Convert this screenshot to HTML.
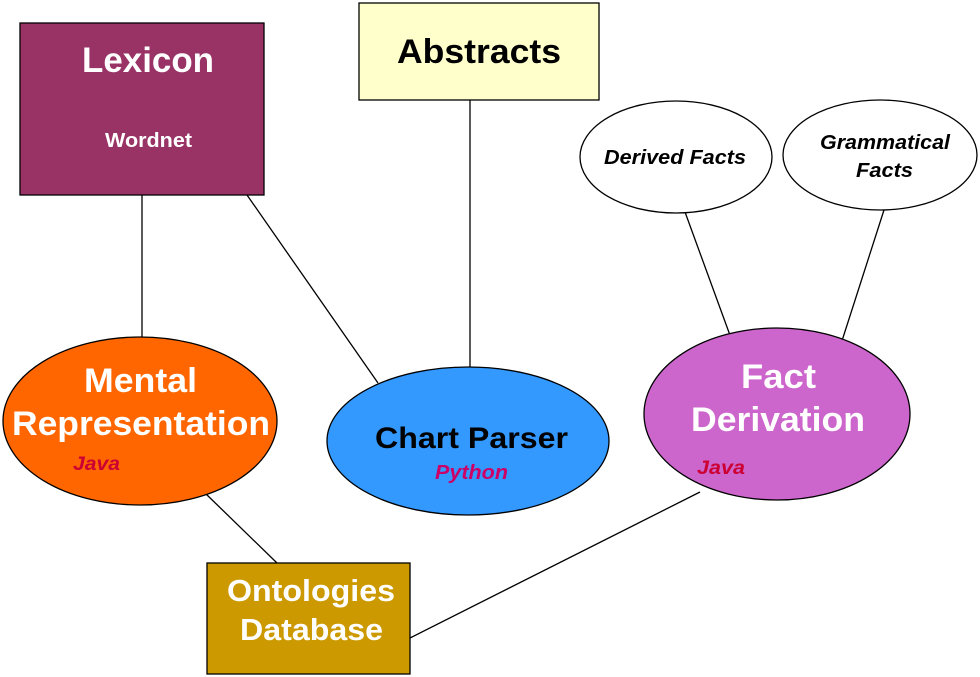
<!DOCTYPE html>
<html><head><meta charset="utf-8"><style>
html,body{margin:0;padding:0;background:#fff;}
svg{display:block;}
text{font-family:"Liberation Sans",Arial,sans-serif;font-weight:bold;}
</style></head><body>
<svg width="980" height="677" viewBox="0 0 980 677" xmlns="http://www.w3.org/2000/svg">
<g stroke="#000" stroke-width="1.3">
<line x1="142" y1="195" x2="142" y2="338"/>
<line x1="247" y1="195" x2="378" y2="383"/>
<line x1="470" y1="100" x2="470" y2="368"/>
<line x1="685" y1="212" x2="731" y2="338"/>
<line x1="884" y1="210" x2="840" y2="347"/>
<line x1="205" y1="493" x2="277" y2="563"/>
<line x1="700" y1="492" x2="410" y2="638"/>
</g>
<rect x="20" y="23" width="244" height="172" fill="#993366" stroke="#000" stroke-width="1.3"/>
<text x="82" y="72" font-size="35" fill="#fff" textLength="132" lengthAdjust="spacingAndGlyphs">Lexicon</text>
<text x="105" y="147" font-size="20" fill="#fff" textLength="87" lengthAdjust="spacingAndGlyphs">Wordnet</text>
<rect x="359" y="3" width="240" height="97" fill="#FFFFCC" stroke="#000" stroke-width="1.3"/>
<text x="397" y="63" font-size="34" fill="#000" textLength="164" lengthAdjust="spacingAndGlyphs">Abstracts</text>
<ellipse cx="676" cy="157" rx="96" ry="56" fill="#fff" stroke="#000" stroke-width="1.3"/>
<text x="604" y="164" font-size="20" font-style="italic" fill="#000" textLength="142" lengthAdjust="spacingAndGlyphs">Derived Facts</text>
<ellipse cx="880" cy="155" rx="97" ry="55" fill="#fff" stroke="#000" stroke-width="1.3"/>
<text x="820" y="149" font-size="20" font-style="italic" fill="#000" textLength="130" lengthAdjust="spacingAndGlyphs">Grammatical</text>
<text x="856" y="177" font-size="20" font-style="italic" fill="#000" textLength="57" lengthAdjust="spacingAndGlyphs">Facts</text>
<ellipse cx="140" cy="421" rx="137" ry="84" fill="#FF6600" stroke="#000" stroke-width="1.3"/>
<text x="84" y="392" font-size="34" fill="#fff" textLength="113" lengthAdjust="spacingAndGlyphs">Mental</text>
<text x="12" y="435" font-size="34" fill="#fff" textLength="258" lengthAdjust="spacingAndGlyphs">Representation</text>
<text x="73" y="470" font-size="19" font-style="italic" fill="#CC0033" textLength="47" lengthAdjust="spacingAndGlyphs">Java</text>
<ellipse cx="468" cy="441" rx="141" ry="74" fill="#3399FF" stroke="#000" stroke-width="1.3"/>
<text x="375" y="448" font-size="30" fill="#000" textLength="193" lengthAdjust="spacingAndGlyphs">Chart Parser</text>
<text x="435" y="479" font-size="20" font-style="italic" fill="#CC0066" textLength="73" lengthAdjust="spacingAndGlyphs">Python</text>
<ellipse cx="777" cy="414" rx="133" ry="86" fill="#CC66CC" stroke="#000" stroke-width="1.3"/>
<text x="741" y="388" font-size="34" fill="#fff" textLength="75" lengthAdjust="spacingAndGlyphs">Fact</text>
<text x="691" y="431" font-size="34" fill="#fff" textLength="174" lengthAdjust="spacingAndGlyphs">Derivation</text>
<text x="697" y="474" font-size="19" font-style="italic" fill="#CC0033" textLength="48" lengthAdjust="spacingAndGlyphs">Java</text>
<rect x="207" y="563" width="203" height="111" fill="#CC9900" stroke="#000" stroke-width="1.3"/>
<text x="227" y="601" font-size="31" fill="#fff" textLength="168" lengthAdjust="spacingAndGlyphs">Ontologies</text>
<text x="240" y="640" font-size="31" fill="#fff" textLength="143" lengthAdjust="spacingAndGlyphs">Database</text>
</svg>
</body></html>
